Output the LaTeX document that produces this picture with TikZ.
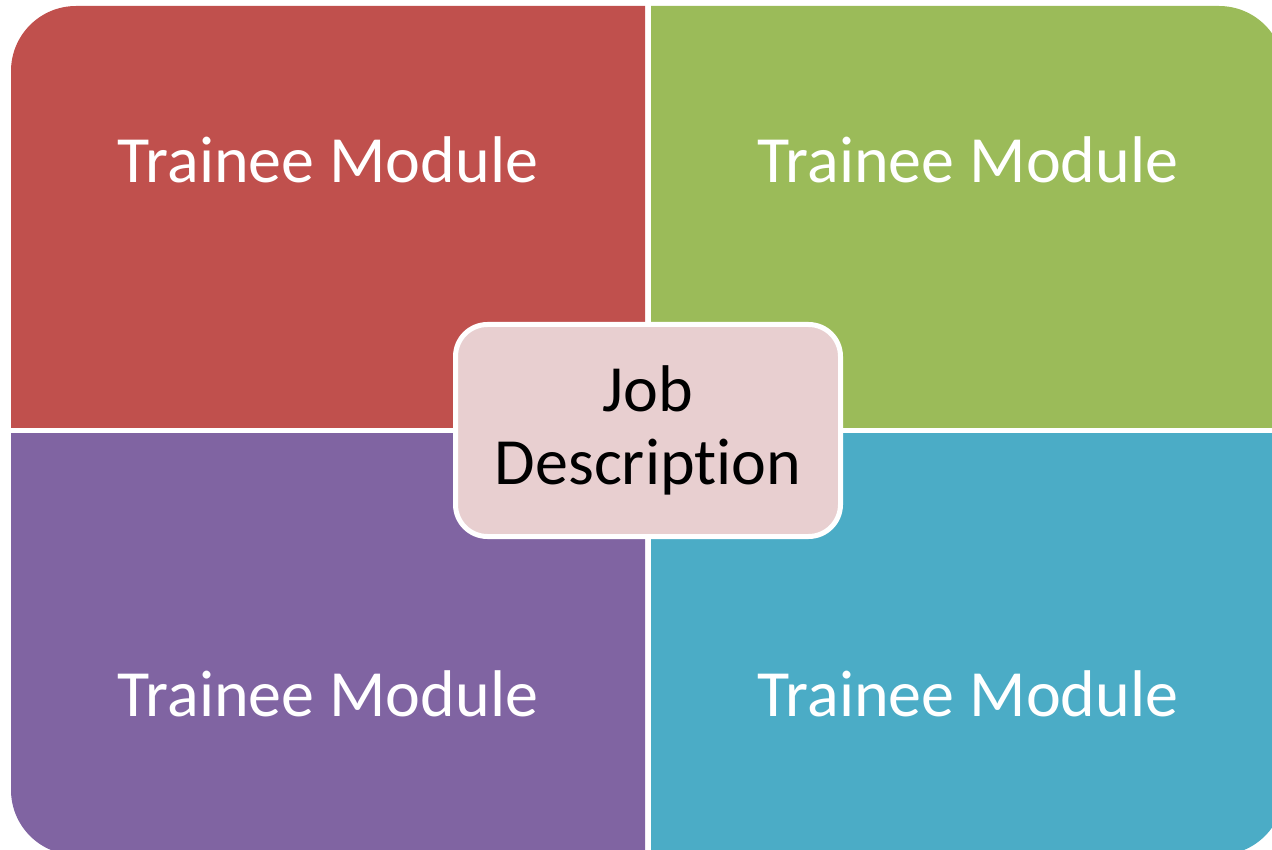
\documentclass[tikz,border=0pt]{standalone}
\usepackage{fontspec}
\setmainfont{Carlito}[Ligatures=NoCommon]
\definecolor{qred}{HTML}{C0504D}
\definecolor{qgreen}{HTML}{9BBB59}
\definecolor{qpurple}{HTML}{8064A2}
\definecolor{qteal}{HTML}{4BACC6}
\definecolor{hubfill}{HTML}{E8CFD0}
\tikzset{
  quadlabel/.style={text=white, anchor=base, font=\fontsize{66}{73}\selectfont, inner sep=0pt},
  hub/.style={draw=white, line width=5pt, fill=hubfill, rounded corners=32pt,
    minimum width=385pt, minimum height=212pt, align=center,
    font=\fontsize{66}{73}\selectfont, text=black, inner sep=0pt},
}
\begin{document}
\begin{tikzpicture}[x=1pt, y=-1pt]
  \useasboundingbox (0,0) rectangle (1272,850);
  \clip (0,0) rectangle (1272,850);
  % four quadrants cut out of one rounded rectangle
  \foreach \xa/\ya/\xb/\yb/\col in {0/0/645/427/qred, 651/0/1300/427/qgreen,
                                    0/433/645/900/qpurple, 651/433/1300/900/qteal}{
    \begin{scope}
      \clip (\xa,\ya) rectangle (\xb,\yb);
      \fill[\col, rounded corners=65pt] (11,6) rectangle (1284,855);
    \end{scope}
  }
  \node[quadlabel] (tl) at (328,183) {Trainee Module};
  \node[quadlabel] (tr) at (968,183) {Trainee Module};
  \node[quadlabel] (bl) at (328,716) {Trainee Module};
  \node[quadlabel] (br) at (968,716) {Trainee Module};
  \node[hub] (job) at (648,430.5) {Job\\Description};
\end{tikzpicture}
\end{document}
